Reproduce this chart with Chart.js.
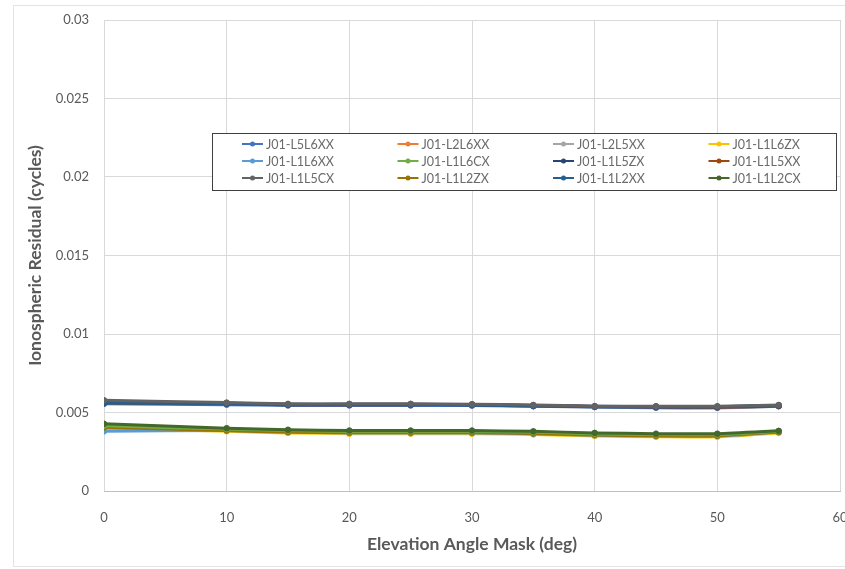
<!DOCTYPE html>
<html>
<head>
<meta charset="utf-8">
<script src="https://cdn.jsdelivr.net/npm/chart.js@4/dist/chart.umd.min.js"></script>
<style>
  html, body { margin: 0; padding: 0; background: #ffffff; }
  #wrap { position: relative; width: 845px; height: 569px; }
  canvas { display: block; }
</style>
</head>
<body>
<div id="wrap"><canvas id="c" width="845" height="569"></canvas></div>
<script>
// Elevation angle mask (deg)
const elevationMask = [0, 10, 15, 20, 25, 30, 35, 40, 45, 50, 55];

// Ionospheric residual (cycles) per signal combination
const seriesNames = [
  'J01-L5L6XX', 'J01-L2L6XX', 'J01-L2L5XX', 'J01-L1L6ZX',
  'J01-L1L6XX', 'J01-L1L6CX', 'J01-L1L5ZX', 'J01-L1L5XX',
  'J01-L1L5CX', 'J01-L1L2ZX', 'J01-L1L2XX', 'J01-L1L2CX'
];
const L5L6XX = [0.00555, 0.00550, 0.00545, 0.00545, 0.00545, 0.00545, 0.00540, 0.00535, 0.00530, 0.00530, 0.00540];
const L2L6XX = [0.00570, 0.00560, 0.00550, 0.00550, 0.00550, 0.00548, 0.00543, 0.00538, 0.00535, 0.00535, 0.00543];
const L2L5XX = [0.00565, 0.00555, 0.00550, 0.00550, 0.00550, 0.00545, 0.00540, 0.00535, 0.00535, 0.00530, 0.00540];
const L1L6ZX = [0.00400, 0.00380, 0.00370, 0.00365, 0.00365, 0.00365, 0.00360, 0.00350, 0.00345, 0.00345, 0.00370];
const L1L6XX = [0.00380, 0.00385, 0.00375, 0.00370, 0.00370, 0.00370, 0.00365, 0.00355, 0.00350, 0.00350, 0.00375];
const L1L6CX = [0.00415, 0.00395, 0.00385, 0.00380, 0.00380, 0.00380, 0.00375, 0.00365, 0.00360, 0.00360, 0.00380];
const L1L5ZX = [0.00565, 0.00558, 0.00553, 0.00553, 0.00553, 0.00550, 0.00545, 0.00540, 0.00537, 0.00537, 0.00545];
const L1L5XX = [0.00560, 0.00555, 0.00550, 0.00550, 0.00550, 0.00550, 0.00545, 0.00538, 0.00535, 0.00533, 0.00542];
const L1L5CX = [0.00578, 0.00563, 0.00555, 0.00555, 0.00555, 0.00553, 0.00548, 0.00540, 0.00540, 0.00540, 0.00548];
const L1L2ZX = [0.00405, 0.00385, 0.00375, 0.00372, 0.00372, 0.00372, 0.00367, 0.00357, 0.00352, 0.00352, 0.00375];
const L1L2XX = [0.00560, 0.00555, 0.00550, 0.00550, 0.00550, 0.00547, 0.00542, 0.00537, 0.00536, 0.00536, 0.00545];
const L1L2CX = [0.00428, 0.00400, 0.00390, 0.00385, 0.00385, 0.00385, 0.00380, 0.00370, 0.00365, 0.00365, 0.00383];

const seriesValues = [
  L5L6XX, L2L6XX, L2L5XX, L1L6ZX,
  L1L6XX, L1L6CX, L1L5ZX, L1L5XX,
  L1L5CX, L1L2ZX, L1L2XX, L1L2CX
];
const seriesColors = [
  '#4472C4', '#ED7D31', '#A5A5A5', '#FFC000',
  '#5B9BD5', '#70AD47', '#264478', '#9E480E',
  '#636363', '#997300', '#255E91', '#43682B'
];
// Drawing order: smaller numbers are painted on top
const seriesOrder = [6, 8, 9, 10, 7, 5, 3, 4, 1, 6, 2, 0];

const yTickLabels = ['0', '0.005', '0.01', '0.015', '0.02', '0.025', '0.03'];
const xTickLabels = ['0', '10', '20', '30', '40', '50', '60'];

const FONT = 'Lato, "Open Sans", sans-serif';
const TEXT = '#595959';

const datasets = seriesNames.map((name, i) => ({
  label: name,
  data: elevationMask.map((x, j) => ({ x: x, y: seriesValues[i][j] })),
  order: seriesOrder[i],
  borderColor: seriesColors[i],
  backgroundColor: seriesColors[i],
  borderWidth: 3,
  pointRadius: 2.8,
  pointBorderWidth: 1,
  pointBorderColor: seriesColors[i],
  tension: 0.2,
  fill: false
}));

// Boxed 4-column legend drawn inside the plot area
const boxedLegend = {
  id: 'boxedLegend',
  afterDatasetsDraw(chart) {
    const ctx = chart.ctx;
    const bx = 212.5, by = 133.5, bw = 624, bh = 57;
    ctx.save();
    ctx.fillStyle = '#ffffff';
    ctx.fillRect(bx, by, bw, bh);
    ctx.strokeStyle = '#404040';
    ctx.lineWidth = 1;
    ctx.strokeRect(bx, by, bw, bh);
    ctx.font = '12.5px ' + FONT;
    ctx.textBaseline = 'middle';
    chart.data.datasets.forEach((ds, i) => {
      const col = i % 4, row = Math.floor(i / 4);
      const x0 = 242 + col * 155.5;
      const y0 = 144 + row * 17;
      ctx.strokeStyle = ds.borderColor;
      ctx.lineWidth = 2;
      ctx.beginPath();
      ctx.moveTo(x0, y0);
      ctx.lineTo(x0 + 21, y0);
      ctx.stroke();
      ctx.fillStyle = ds.borderColor;
      ctx.beginPath();
      ctx.arc(x0 + 10.5, y0, 2.5, 0, Math.PI * 2);
      ctx.fill();
      ctx.fillStyle = '#6a6a6a';
      ctx.fillText(ds.label, x0 + 24, y0 + 0.5);
    });
    ctx.restore();
  }
};

// White background and light outer frame
const chartFrame = {
  id: 'chartFrame',
  beforeDraw(chart) {
    const ctx = chart.ctx;
    ctx.save();
    ctx.fillStyle = '#ffffff';
    ctx.fillRect(0, 0, chart.width, chart.height);
    ctx.strokeStyle = '#E3E3E3';
    ctx.lineWidth = 1;
    ctx.beginPath();
    ctx.moveTo(13.5, 5.5);
    ctx.lineTo(13.5, 566.5);
    ctx.lineTo(chart.width, 566.5);
    ctx.moveTo(13.5, 5.5);
    ctx.lineTo(chart.width, 5.5);
    ctx.stroke();
    ctx.restore();
  }
};

new Chart(document.getElementById('c'), {
  type: 'line',
  data: { datasets: datasets },
  options: {
    responsive: false,
    animation: false,
    layout: { padding: { left: 14, right: 4, top: 20, bottom: 8 } },
    plugins: {
      legend: { display: false },
      tooltip: { enabled: false }
    },
    scales: {
      x: {
        type: 'linear',
        min: 0, max: 60,
        ticks: {
          stepSize: 10,
          padding: 19,
          color: TEXT,
          font: { family: FONT, size: 13 },
          callback: (v) => xTickLabels[Math.round(v / 10)]
        },
        grid: { color: '#D9D9D9', drawTicks: false, lineWidth: 1 },
        border: { color: '#BFBFBF', width: 1 },
        title: {
          display: true,
          text: 'Elevation Angle Mask (deg)',
          color: TEXT,
          font: { family: FONT, size: 17.5, weight: 'bold' },
          padding: { top: 4, bottom: 6 }
        },
        afterFit(scale) { scale.height = 569 - 491 - 8; scale.paddingLeft = 0; scale.paddingRight = 0; }
      },
      y: {
        min: 0, max: 0.03,
        ticks: {
          stepSize: 0.005,
          padding: 15,
          color: TEXT,
          font: { family: FONT, size: 13 },
          callback: (v) => yTickLabels[Math.round(v / 0.005)]
        },
        grid: { color: '#D9D9D9', drawTicks: false, lineWidth: 1 },
        border: { display: false },
        title: {
          display: true,
          text: 'Ionospheric Residual (cycles)',
          color: TEXT,
          font: { family: FONT, size: 17.5, weight: 'bold' },
          padding: { top: 11, bottom: 4 }
        },
        afterFit(scale) { scale.width = 104 - 14; scale.paddingTop = 0; scale.paddingBottom = 0; }
      }
    }
  },
  plugins: [chartFrame, boxedLegend]
});
</script>
</body>
</html>
